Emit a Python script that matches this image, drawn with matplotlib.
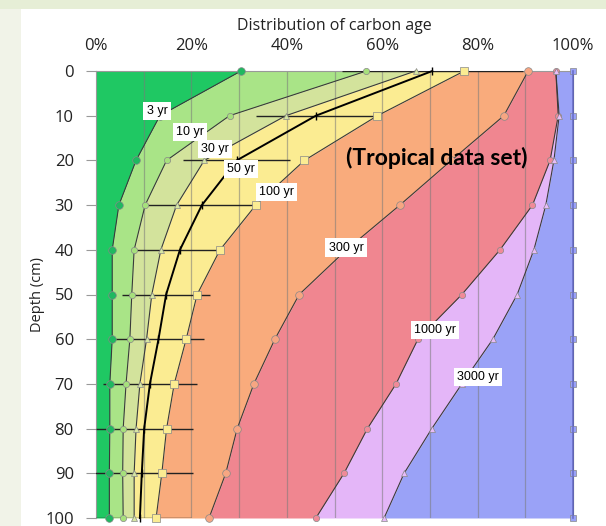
import matplotlib
matplotlib.use("Agg")
import matplotlib.pyplot as plt
from matplotlib.patches import Rectangle
import numpy as np

depth = [0, 10, 20, 30, 40, 50, 60, 70, 80, 90, 100]
b_3yr = [30.4, 13.4, 8.4, 4.8, 3.4, 3.4, 3.4, 2.9, 2.9, 2.8, 2.8]
b_10yr = [56.7, 28.0, 14.8, 10.3, 8.0, 7.5, 7.1, 6.3, 5.7, 5.6, 5.7]
b_30yr = [67.0, 39.8, 22.7, 16.9, 13.6, 11.7, 10.6, 9.2, 8.4, 8.0, 8.0]
b_50yr = [70.5, 46.1, 29.5, 22.2, 17.6, 14.7, 13.1, 11.3, 10.1, 9.6, 9.2]
err_50yr = [19.0, 12.6, 11.2, 11.4, 9.0, 9.2, 9.5, 9.8, 10.2, 10.8, 10.8]
b_100yr = [77.2, 59.0, 43.7, 33.5, 26.0, 21.2, 18.9, 16.4, 14.8, 13.8, 12.6]
b_300yr = [90.6, 85.5, 74.5, 63.7, 52.5, 42.6, 37.5, 33.1, 29.6, 27.2, 23.7]
b_1000yr = [96.4, 96.9, 95.2, 91.5, 84.7, 76.7, 67.5, 62.9, 56.9, 52.0, 46.1]
b_3000yr = [96.4, 97.1, 96.0, 94.3, 91.8, 88.3, 83.2, 76.7, 70.4, 64.6, 60.4]
b_all = [100] * 11

xticks = [0, 20, 40, 60, 80, 100]
xticklabels = ["0%", "20%", "40%", "60%", "80%", "100%"]
yticks = [0, 10, 20, 30, 40, 50, 60, 70, 80, 90, 100]

zone_labels = ["3 yr", "10 yr", "30 yr", "50 yr", "100 yr", "300 yr", "1000 yr", "3000 yr"]
zone_label_pos = [(12.8, 8.9), (19.7, 13.6), (25.0, 17.4), (30.4, 22.0), (37.9, 27.0),
                  (52.4, 39.5), (71.0, 58.0), (80.0, 68.5)]

fig = plt.figure(figsize=(6.06, 5.26), dpi=100)
fig.patch.set_facecolor("#f1f3e8")
fig.patches.append(Rectangle((21 / 606, 0), 1, 1 - 9 / 526, transform=fig.transFigure,
                             facecolor="white", edgecolor="none", zorder=-10))
fig.patches.append(Rectangle((0, 1 - 9 / 526), 1, 9 / 526, transform=fig.transFigure,
                             facecolor="#e6eed6", edgecolor="none", zorder=-10))

ax = fig.add_axes([96 / 606, 1 - 518 / 526, 477 / 606, 447 / 526])
ax.set_facecolor("none")

bounds = [[0] * 11, b_3yr, b_10yr, b_30yr, b_100yr, b_300yr, b_1000yr, b_3000yr, b_all]
fills = ["#1fc863", "#a9e487", "#d3e39c", "#fbec92", "#f9ab7c", "#f08690", "#e4b6f8", "#9aa2f7"]
for i in range(8):
    ax.fill_betweenx(depth, bounds[i], bounds[i + 1], color=fills[i], lw=0, zorder=1)

for x in range(10, 100, 10):
    ax.axvline(x, color="#7a7a7a", lw=0.9, alpha=0.55, zorder=2)

# error bars on 50 yr line
ax.errorbar(b_50yr, depth, xerr=err_50yr, fmt="none", ecolor="#222222", elinewidth=1.0,
            capsize=0, zorder=3, clip_on=True)

series = [
    (b_3yr, "o", "#1fb860", 5.5),
    (b_10yr, "o", "#a6e07c", 4.5),
    (b_30yr, "^", "#d6e6a2", 5),
    (b_100yr, "s", "#fbec92", 5.5),
    (b_300yr, "o", "#f7a682", 5.5),
    (b_1000yr, "o", "#f08a98", 4.5),
    (b_3000yr, "^", "#e8bcf8", 5),
    (b_all, "s", "#9aa2f7", 5),
]
for vals, m, c, ms in series:
    ax.plot(vals, depth, color="#3a3a3a", lw=0.8, marker=m, markerfacecolor=c,
            markeredgecolor="#888888", markeredgewidth=0.5, markersize=ms, zorder=4, clip_on=False)
ax.plot(b_all, depth, color="#6a6fc8", lw=1.2, zorder=4, clip_on=False)
ax.plot(b_50yr, depth, color="black", lw=1.4, marker="|", markersize=6, zorder=5, clip_on=False)

bbox = dict(boxstyle="square,pad=0.25", facecolor="white", edgecolor="none")
for lab, (x, y) in zip(zone_labels, zone_label_pos):
    ax.text(x, y, lab, fontsize=9, ha="center", va="center", bbox=bbox, zorder=6,
            family="Liberation Sans")
ax.text(71.5, 19.4, "(Tropical data set)", fontsize=16.5, fontweight="bold", ha="center",
        va="center", zorder=6, family="Lato")

ax.set_xlim(0, 100)
ax.set_ylim(100, 0)
ax.xaxis.tick_top()
ax.xaxis.set_label_position("top")
ax.set_xticks(xticks)
ax.set_xticklabels(xticklabels)
ax.set_yticks(yticks)
ax.tick_params(axis="x", length=0, labelsize=12, pad=12, colors="#222222")
ax.tick_params(axis="y", length=7, width=0.8, color="#999999", labelsize=12, pad=9,
               labelcolor="#222222")
for lab in ax.get_xticklabels() + ax.get_yticklabels():
    lab.set_family("Open Sans")
ax.set_xlabel("Distribution of carbon age", fontsize=11.5, family="Open Sans", labelpad=6,
              color="#222222")
ax.set_ylabel("Depth (cm)", fontsize=10.5, family="Open Sans", labelpad=0, color="#222222")
for s in ["right", "bottom"]:
    ax.spines[s].set_visible(False)
ax.spines["top"].set_color("#999999")
ax.spines["top"].set_linewidth(0.8)
ax.spines["left"].set_color("#999999")
ax.spines["left"].set_linewidth(0.8)

fig.savefig("out.png", dpi=100, facecolor=fig.get_facecolor())
